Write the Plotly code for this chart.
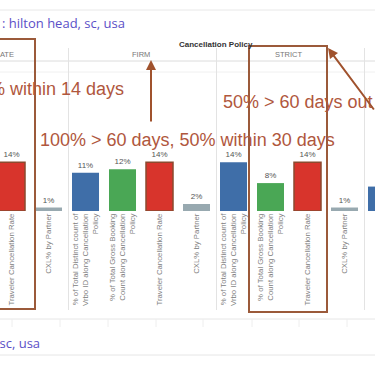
import plotly.graph_objects as go

# ---------------- data ----------------
policies = ["MODERATE", "FIRM", "STRICT", "NO REFUND"]
measures = [
    "% of Total Distinct count of<br>Vrbo ID along Cancellation<br>Policy",
    "% of Total Gross Booking<br>Count along Cancellation<br>Policy",
    "Traveler Cancellation Rate",
    "CXL% by Partner",
]
vrbo_share = [None, 0.11, 0.14, 0.07]
booking_share = [None, 0.12, 0.08, None]
traveler_cxl = [0.14, 0.14, 0.14, None]
partner_cxl = [0.01, 0.02, 0.01, None]
series = [vrbo_share, booking_share, traveler_cxl, partner_cxl]
colors = ["#3f6ea8", "#4aa755", "#d8342c", "#98a9b0"]
outline = ["rgba(0,0,0,0)", "rgba(0,0,0,0)", "#8b4a2f", "rgba(0,0,0,0)"]

city_text = ": hilton head, sc, usa"
city_text_bottom = "hilton head, sc, usa"
header_text = "Cancellation Policy"
notes = ["50% within 14 days", "100% > 60 days, 50% within 30 days", "50% > 60 days out"]

# ---------------- geometry helpers ----------------
W, H = 375, 366
PLOT_TOP, PLOT_BOT = 61, 211
X0 = 4 - 85.5 / 37.0
X1 = X0 + W / 37.0
Y_MAX = 0.43


def px(x):
    return x / W


def py(y):
    return (PLOT_BOT - y) / (PLOT_BOT - PLOT_TOP)


def xpaper(v):
    return (v - X0) / (X1 - X0)


n_m = len(measures)
fig = go.Figure()
for m, vals in enumerate(series):
    xs = [g * n_m + m for g in range(len(policies))]
    fig.add_trace(go.Bar(
        x=xs, y=vals, width=0.73,
        marker=dict(color=colors[m], line=dict(color=outline[m], width=1.5 if m == 2 else 0)),
        text=[("%d%%" % round(v * 100)) if v is not None else "" for v in vals],
        textposition="outside",
        textfont=dict(size=8, color="#555", family="Liberation Sans"),
        cliponaxis=False,
        showlegend=False,
        hoverinfo="skip",
    ))

tickvals = [g * n_m + m for g in range(len(policies)) for m in range(n_m)]
ticktext = [measures[m] for g in range(len(policies)) for m in range(n_m)]

shapes = []
grey = "#e3e3e3"
for yy, col in [(10, "#e8e8e8"), (61, "#dcdcdc"), (72, "#f0f0f0"), (319, "#e6e6e6"), (355, "#e6e6e6")]:
    shapes.append(dict(type="line", xref="paper", yref="paper", x0=0, x1=1, y0=py(yy), y1=py(yy),
                       line=dict(color=col, width=1)))
for xx in [12, 60, 108, 156, 203, 252, 299, 347]:
    shapes.append(dict(type="line", xref="paper", yref="paper", x0=px(xx), x1=px(xx), y0=py(319), y1=py(327),
                       line=dict(color="#eeeeee", width=1)))
for g in range(1, len(policies)):
    b = g * n_m - 0.5
    shapes.append(dict(type="line", xref="paper", yref="paper", x0=xpaper(b) + 1.5 / W, x1=xpaper(b) + 1.5 / W,
                       y0=py(48), y1=py(310), line=dict(color=grey, width=1)))
rust = "#9b5a3a"
shapes.append(dict(type="rect", xref="paper", yref="paper", x0=px(-5), x1=px(35), y0=py(309), y1=py(39),
                   line=dict(color=rust, width=2)))
shapes.append(dict(type="rect", xref="paper", yref="paper", x0=px(249), x1=px(327), y0=py(312), y1=py(46),
                   line=dict(color=rust, width=2)))

purple = "#5b4fc7"
note_col = "#b0573d"
anns = [
    dict(text=city_text, x=px(0), y=py(23), xanchor="left", yanchor="middle",
         font=dict(family="Open Sans", size=13, color=purple)),
    dict(text=city_text_bottom, x=px(42), y=py(343), xanchor="right", yanchor="middle",
         font=dict(family="Open Sans", size=13, color=purple)),
    dict(text="<b>" + header_text + "</b>", x=px(216), y=py(44), xanchor="center", yanchor="middle",
         font=dict(family="Liberation Sans", size=8, color="#333")),
]
for g, p in enumerate(policies):
    anns.append(dict(text=p, x=xpaper(g * n_m + 1.5), y=py(55), xanchor="center", yanchor="middle",
                     font=dict(family="Liberation Sans", size=7.5, color="#777")))
anns += [
    dict(text=notes[0], x=px(126), y=py(89), xanchor="right", yanchor="middle",
         font=dict(family="Liberation Sans", size=18, color=note_col)),
    dict(text=notes[1], x=px(38), y=py(140), xanchor="left", yanchor="middle",
         font=dict(family="Liberation Sans", size=18, color=note_col)),
    dict(text=notes[2], x=px(221), y=py(102), xanchor="left", yanchor="middle",
         font=dict(family="Liberation Sans", size=18, color=note_col)),
    dict(text="", x=px(151), y=py(60), ax=0, ay=63, showarrow=True, arrowhead=2, arrowsize=1,
         arrowwidth=2, arrowcolor="#a0522d", standoff=0),
    dict(text="", x=px(328), y=py(48), ax=72, ay=63, showarrow=True, arrowhead=2, arrowsize=1,
         arrowwidth=2, arrowcolor="#a0522d", standoff=0),
]
for a in anns:
    a.setdefault("showarrow", False)
    a["xref"] = "paper"
    a["yref"] = "paper"

fig.update_layout(
    width=W, height=H,
    margin=dict(l=0, r=0, t=PLOT_TOP, b=H - PLOT_BOT),
    paper_bgcolor="white", plot_bgcolor="white",
    barmode="overlay",
    xaxis=dict(range=[X0, X1], tickvals=tickvals, ticktext=ticktext, tickangle=-90,
               tickfont=dict(family="Liberation Sans", size=7.8, color="#808080"),
               showgrid=False, zeroline=False, showline=False, ticks=""),
    yaxis=dict(range=[0, Y_MAX], visible=False, showgrid=False),
    shapes=shapes,
    annotations=anns,
)

fig.write_html("out.html", config={"displayModeBar": False},
               post_script="document.body.style.margin='0';document.body.style.overflow='hidden';")
